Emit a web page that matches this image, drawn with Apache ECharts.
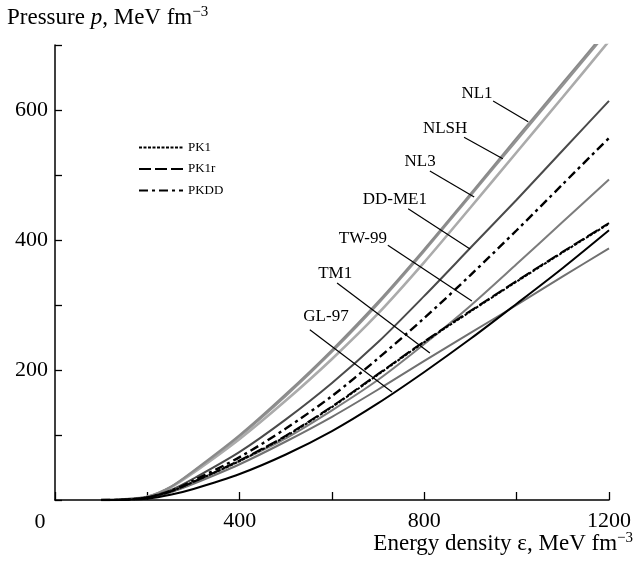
<!DOCTYPE html>
<html>
<head>
<meta charset="utf-8">
<script src="https://cdn.jsdelivr.net/npm/echarts@6/dist/echarts.min.js"></script>
<style>
  html, body { margin: 0; padding: 0; background: #fff; }
  #chart { width: 634px; height: 562px; }
</style>
</head>
<body>
<div id="chart"></div>
<script>
// Energy density grid, MeV fm^-3
const energy = [100, 150, 200, 250, 300, 400, 500, 600, 700, 800, 900, 1000, 1100, 1200];

// Pressure p (MeV fm^-3) of each parameter set on the grid above
const pNL1   = [0, 1, 5, 20, 45, 100, 163, 231, 305, 386, 471, 557, 642, 727];
const pNLSH  = [0, 1, 5, 20, 44, 98, 160, 228, 302, 383, 468, 553, 638, 723];
const pNL3   = [0, 1, 5, 19, 42, 94, 153, 217, 287, 366, 450, 535, 620, 706];
const pDDME1 = [0, 0.5, 4, 15, 33, 74, 124, 180, 243, 314, 388, 462, 538, 614];
const pPKDD  = [0, 0.5, 4, 14, 30, 66, 110, 160, 218, 280, 346, 415, 486, 557];
const pPK1   = [0, 0.5, 4, 13, 28, 60, 98, 143, 193, 243, 290, 336, 381, 425];
const pPK1r  = [0, 0.5, 4, 13, 28, 61, 99, 144, 194, 244, 291, 337, 382, 426];
const pTW99  = [0, 0.5, 3, 12, 27, 60, 95, 138, 185, 240, 299, 363, 428, 493];
const pTM1   = [0, 0.5, 3, 12, 25, 55, 90, 128, 170, 214, 257, 300, 344, 387];
const pGL97  = [0, 0.3, 2, 8, 17, 40, 70, 106, 149, 197, 248, 302, 357, 415];

// Tick labels that are printed
const xLabels = [400, 800, 1200];
const yLabels = [200, 400, 600];

// Curve labels: text anchor and leader line, in data coordinates [ε, p]
const curveNotes = [
  { name: 'NL1',    at: [914, 626], from: [949, 614], to: [1025, 582] },
  { name: 'NLSH',   at: [845, 572], from: [886, 558], to: [970, 525] },
  { name: 'NL3',    at: [791, 520], from: [812, 506], to: [908, 466] },
  { name: 'DD-ME1', at: [736, 462], from: [765, 448], to: [899, 386] },
  { name: 'TW-99',  at: [667, 403], from: [721, 392], to: [903, 306] },
  { name: 'TM1',    at: [607, 349], from: [611, 334], to: [812, 226] },
  { name: 'GL-97',  at: [587, 282], from: [552, 262], to: [730, 166] }
];

const SERIF = "'Liberation Serif', 'DejaVu Serif', serif";
const pairs = vals => energy.map((e, i) => [e, vals[i]]);

function curve(name, vals, color, width, type, z) {
  return {
    name: name,
    type: 'line',
    data: pairs(vals),
    symbol: 'none',
    showSymbol: false,
    smooth: 0.3,
    clip: true,
    z: z,
    lineStyle: { color: color, width: width, type: type, cap: 'butt' },
    itemStyle: { color: color },
    emphasis: { disabled: true }
  };
}

const chart = echarts.init(document.getElementById('chart'), null, { renderer: 'canvas' });

chart.setOption({
  animation: false,
  backgroundColor: '#fff',
  grid: { left: 55, right: 25, top: 45, bottom: 62, containLabel: false },
  xAxis: {
    type: 'value', min: 0, max: 1200, interval: 200,
    axisLine: { show: true, onZero: false, lineStyle: { color: '#000', width: 1.5 } },
    axisTick: { show: true, inside: true, length: 8, lineStyle: { color: '#000', width: 1.3 } },
    splitLine: { show: false },
    axisLabel: {
      margin: 10, color: '#000', fontFamily: SERIF, fontSize: 22,
      formatter: v => xLabels.includes(v) ? String(v) : ''
    }
  },
  yAxis: {
    type: 'value', min: 0, max: 700, interval: 100,
    axisLine: { show: true, onZero: false, lineStyle: { color: '#000', width: 1.5 } },
    axisTick: { show: true, inside: true, length: 7, lineStyle: { color: '#000', width: 1.3 } },
    splitLine: { show: false },
    axisLabel: {
      margin: 7, color: '#000', fontFamily: SERIF, fontSize: 22,
      formatter: v => yLabels.includes(v) ? String(v) : ''
    }
  },
  legend: {
    data: ['PK1', 'PK1r', 'PKDD'],
    orient: 'vertical',
    left: 133, top: 136,
    itemWidth: 44, itemHeight: 14, itemGap: 8.5,
    selectedMode: false,
    itemStyle: { opacity: 0 },
    textStyle: { color: '#000', fontFamily: SERIF, fontSize: 13 }
  },
  series: [
    curve('NL3',    pNL3,   '#ababab', 2.6, 'solid', 2),
    curve('NLSH',   pNLSH,  '#929292', 2.0, 'solid', 2),
    curve('NL1',    pNL1,   '#8a8a8a', 2.0, 'solid', 2),
    curve('TW-99',  pTW99,  '#7c7c7c', 2.0, 'solid', 3),
    curve('TM1',    pTM1,   '#707070', 2.0, 'solid', 3),
    curve('DD-ME1', pDDME1, '#4a4a4a', 2.0, 'solid', 3),
    curve('GL-97',  pGL97,  '#000000', 2.0, 'solid', 4),
    curve('PK1r',   pPK1r,  '#000000', 2.0, [12, 4], 5),
    curve('PK1',    pPK1,   '#000000', 2.0, [3, 1.5], 5),
    curve('PKDD',   pPKDD,  '#000000', 2.4, [9, 4, 3, 4], 5)
  ]
});

// Curve labels, leader lines and axis titles placed through the chart's scales
const px = c => chart.convertToPixel({ gridIndex: 0 }, c);
const graphics = [];
curveNotes.forEach(n => {
  const a = px(n.at), f = px(n.from), t = px(n.to);
  graphics.push({
    type: 'text', z: 10,
    style: { text: n.name, x: a[0], y: a[1], align: 'center', verticalAlign: 'middle',
             fill: '#000', fontFamily: SERIF, fontSize: 17 }
  });
  graphics.push({
    type: 'line', z: 10,
    shape: { x1: f[0], y1: f[1], x2: t[0], y2: t[1] },
    style: { stroke: '#000', lineWidth: 1.2 }
  });
});

const origin = px([0, 0]);
graphics.push({
  type: 'text', z: 10,
  style: { text: '0', x: origin[0] - 15, y: origin[1] + 22, align: 'center', verticalAlign: 'middle',
           fill: '#000', fontFamily: SERIF, fontSize: 22 }
});

const titleRich = {
  a: { fontFamily: SERIF, fontSize: 23, lineHeight: 27, fill: '#000' },
  i: { fontFamily: SERIF, fontSize: 23, lineHeight: 27, fontStyle: 'italic', fill: '#000' },
  s: { fontFamily: SERIF, fontSize: 15, lineHeight: 16, verticalAlign: 'top', fill: '#000' }
};
graphics.push({
  type: 'text', z: 10,
  style: { text: '{a|Pressure }{i|p}{a|, MeV fm}{s|\u22123}', rich: titleRich,
           x: 7, y: 18, align: 'left', verticalAlign: 'middle' }
});
graphics.push({
  type: 'text', z: 10,
  style: { text: '{a|Energy density \u03b5, MeV fm}{s|\u22123}', rich: titleRich,
           x: 633, y: 544, align: 'right', verticalAlign: 'middle' }
});

chart.setOption({ graphic: graphics });
</script>
</body>
</html>
